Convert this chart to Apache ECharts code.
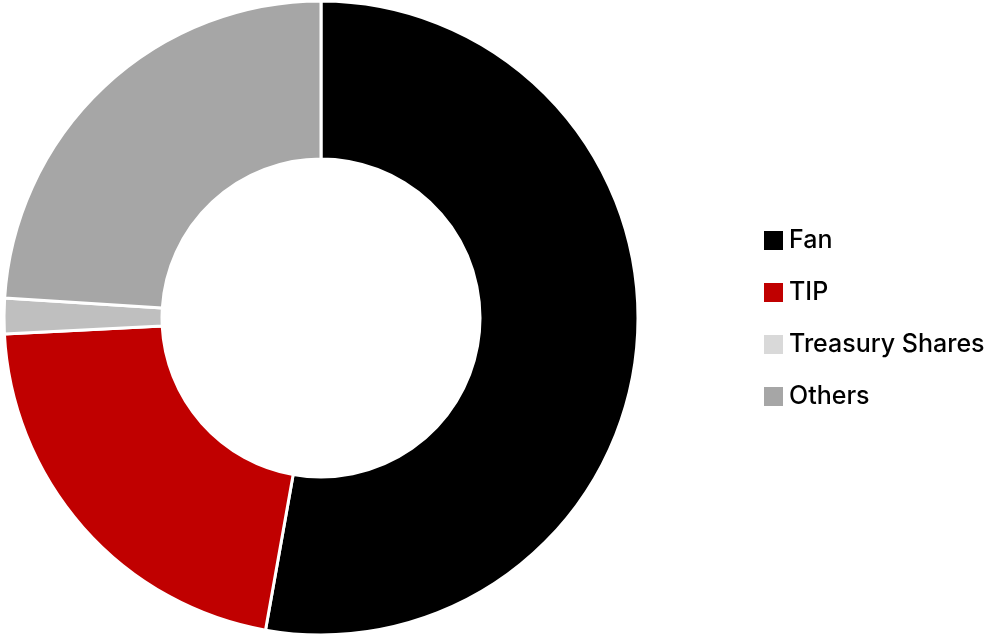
<!DOCTYPE html>
<html>
<head>
<meta charset="utf-8">
<script src="https://cdn.jsdelivr.net/npm/echarts@6/dist/echarts.min.js"></script>
<style>
  html, body { margin: 0; padding: 0; background: #fff; }
  #chart { width: 990px; height: 636px; }
</style>
</head>
<body>
<div id="chart"></div>
<script>
// Shareholding split
const names = ['Fan', 'TIP', 'Treasury Shares', 'Others'];
const shares = [52.8, 21.4, 1.8, 24.0];
const sliceColors = ['#000000', '#c00000', '#bfbfbf', '#a6a6a6'];
const legendColors = ['#000000', '#c00000', '#d9d9d9', '#a6a6a6'];

const chart = echarts.init(document.getElementById('chart'));

chart.setOption({
  backgroundColor: '#fff',
  animation: false,
  legend: {
    orient: 'vertical',
    left: 764,
    top: 228,
    padding: 0,
    itemWidth: 19,
    itemHeight: 19,
    itemGap: 27,
    icon: 'rect',
    textStyle: {
      color: '#000', fontSize: 25, lineHeight: 25, fontWeight: 500,
      fontFamily: 'Inter', padding: [0, 0, 0, 1],
    },
    data: names.map((n, i) => ({
      name: n,
      itemStyle: { color: legendColors[i], borderWidth: 0 },
    })),
  },
  series: [
    {
      type: 'pie',
      center: [321, 318],
      radius: [159, 317],
      startAngle: 90,
      clockwise: true,
      label: { show: false },
      labelLine: { show: false },
      itemStyle: { borderColor: '#fff', borderWidth: 3 },
      data: names.map((n, i) => ({
        name: n,
        value: shares[i],
        itemStyle: { color: sliceColors[i] },
      })),
    },
  ],
});
</script>
</body>
</html>
